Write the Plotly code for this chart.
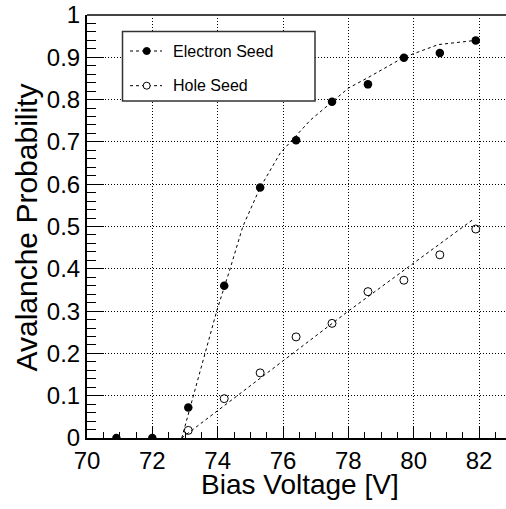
import plotly.graph_objects as go

# Measured avalanche probabilities vs. bias voltage
bias_v = [70.9, 72.0, 73.1, 74.2, 75.3, 76.4, 77.5, 78.6, 79.7, 80.8, 81.9]
electron_prob = [0.0, 0.0, 0.072, 0.36, 0.592, 0.704, 0.795, 0.836, 0.899, 0.910, 0.940]

hole_v = [73.1, 74.2, 75.3, 76.4, 77.5, 78.6, 79.7, 80.8, 81.9]
hole_prob = [0.018, 0.093, 0.154, 0.239, 0.271, 0.346, 0.373, 0.433, 0.494]

# Model curves (dashed)
electron_fit_v = [72.9, 73.5, 73.97, 74.38, 74.77, 75.3, 75.91, 76.83, 77.5, 78.0, 78.6, 79.7, 80.75, 81.9]
electron_fit_p = [0.0, 0.165, 0.30, 0.40, 0.50, 0.592, 0.673, 0.751, 0.795, 0.827, 0.852, 0.900, 0.930, 0.940]

hole_fit_v = [72.9, 75.91, 78.0, 81.86]
hole_fit_p = [0.0, 0.176, 0.30, 0.519]

x_ticks = [70, 72, 74, 76, 78, 80, 82]

W, H = 506, 509
ML, MR, MT, MB = 87, 0, 15, 71
PW, PH = W - ML - MR, H - MT - MB
X_MIN = 70.0
PX_PER_V = 32.67
X_MAX = X_MIN + PW / PX_PER_V


def fx(px):
    return (px - ML) / PW


def fy(py):
    return (H - MB - py) / PH


FONT = "Liberation Sans, Arial, Helvetica, sans-serif"
DASH = "3px,3px"

fig = go.Figure()

fig.add_trace(go.Scatter(
    x=electron_fit_v, y=electron_fit_p, mode="lines",
    line=dict(color="black", width=1, dash=DASH), showlegend=False, hoverinfo="skip"))
fig.add_trace(go.Scatter(
    x=hole_fit_v, y=hole_fit_p, mode="lines",
    line=dict(color="black", width=1, dash=DASH), showlegend=False, hoverinfo="skip"))
fig.add_trace(go.Scatter(
    x=bias_v, y=electron_prob, mode="markers", name="Electron Seed",
    marker=dict(symbol="circle", size=8.5, color="black"), showlegend=False))
fig.add_trace(go.Scatter(
    x=hole_v, y=hole_prob, mode="markers", name="Hole Seed",
    marker=dict(symbol="circle-open", size=8, color="black", line=dict(width=1)),
    showlegend=False))

shapes = []
# top frame
shapes.append(dict(type="line", xref="paper", yref="paper", x0=0, x1=1, y0=1, y1=1,
                   line=dict(color="#444", width=2), layer="above"))
# legend box
LX0, LX1, LY0, LY1 = 122.5, 315, 31.5, 101
shapes.append(dict(type="rect", xref="paper", yref="paper",
                   x0=fx(LX0), x1=fx(LX1), y0=fy(LY1), y1=fy(LY0),
                   line=dict(color="#333", width=1.5), fillcolor="white", layer="above"))
legend_rows = [("Electron Seed", 51, "black"), ("Hole Seed", 85.7, "white")]
annotations = []
for label, ry, fill in legend_rows:
    shapes.append(dict(type="line", xref="paper", yref="paper",
                       x0=fx(130), x1=fx(162), y0=fy(ry), y1=fy(ry),
                       line=dict(color="black", width=1, dash=DASH), layer="above"))
    shapes.append(dict(type="circle", xref="paper", yref="paper",
                       x0=fx(146.7 - 3.5), x1=fx(146.7 + 3.5),
                       y0=fy(ry + 3.5), y1=fy(ry - 3.5),
                       line=dict(color="black", width=1), fillcolor=fill, layer="above"))
    annotations.append(dict(text=label, xref="paper", yref="paper",
                            x=fx(171), y=fy(ry), xanchor="left", yanchor="middle",
                            showarrow=False, font=dict(family=FONT, size=16, color="black")))

annotations.append(dict(text="Bias Voltage [V]", xref="paper", yref="paper",
                        x=fx(300), y=fy(484), xanchor="center", yanchor="middle",
                        showarrow=False, font=dict(family=FONT, size=28, color="black")))
annotations.append(dict(text="Avalanche Probability", xref="paper", yref="paper",
                        x=fx(26), y=fy(227.5), xanchor="center", yanchor="middle",
                        textangle=-90, showarrow=False,
                        font=dict(family=FONT, size=30, color="black")))

fig.update_layout(
    width=W, height=H,
    margin=dict(l=ML, r=MR, t=MT, b=MB, pad=0),
    paper_bgcolor="white", plot_bgcolor="white",
    font=dict(family=FONT, color="black"),
    shapes=shapes, annotations=annotations,
    xaxis=dict(
        range=[X_MIN, X_MAX], tickmode="array", tickvals=x_ticks,
        ticks="inside", ticklen=11, tickwidth=1, tickcolor="black",
        minor=dict(dtick=0.5, tick0=70, ticks="inside", ticklen=6, tickwidth=1,
                   tickcolor="black", showgrid=False),
        showline=True, linecolor="black", linewidth=2, mirror=False,
        showgrid=True, gridcolor="black", gridwidth=1, griddash="1px,2px",
        zeroline=False, tickfont=dict(family=FONT, size=24, color="black"),
        ticklabelstandoff=0,
    ),
    yaxis=dict(
        range=[0, 1], dtick=0.1, tick0=0,
        ticks="inside", ticklen=17, tickwidth=1, tickcolor="black",
        minor=dict(dtick=0.02, tick0=0, ticks="inside", ticklen=9, tickwidth=1,
                   tickcolor="black", showgrid=False),
        showline=True, linecolor="black", linewidth=2, mirror=False,
        showgrid=True, gridcolor="black", gridwidth=1, griddash="1px,2px",
        zeroline=False, tickfont=dict(family=FONT, size=24, color="black"),
    ),
)

fig.write_html("out.html")
